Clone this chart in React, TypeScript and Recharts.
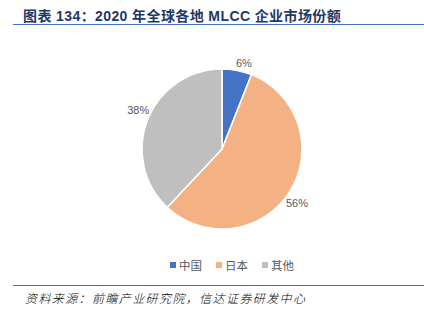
import React from 'react'
import { PieChart, Pie, Cell } from 'recharts'

document.body.style.margin = '0'

const regions = ['中国', '日本', '其他']
const shares = [6, 56, 38]
const colors = ['#4472C4', '#F4B183', '#BFBFBF']

const data = regions.map((name, i) => ({ name, value: shares[i] }))

const RAD = Math.PI / 180

// place the label box just outside the slice edge (like Excel "outside end")
const renderLabel = (props: any) => {
  const { cx, cy, midAngle, outerRadius, value } = props
  const text = value + '%'
  const hw = text.length * 3.1
  const hh = 6
  const a = (midAngle - 3.5) * RAD
  const c = Math.cos(-a)
  const s = Math.sin(-a)
  const r = outerRadius + 1.5 + hw * Math.abs(c) + hh * Math.abs(s)
  return (
    <text
      x={cx + r * c}
      y={cy + r * s}
      fill='#595959'
      fontSize={11}
      textAnchor='middle'
      dominantBaseline='central'
    >
      {text}
    </text>
  )
}

const App: React.FC = () => {
  return (
    <div
      style={{
        position: 'relative',
        width: 424,
        height: 331,
        background: '#fff',
        fontFamily: 'Arial, "Liberation Sans", "Noto Sans CJK SC", sans-serif'
      }}
    >
      <div
        style={{
          position: 'absolute',
          left: 23,
          top: 5,
          fontSize: 14,
          fontWeight: 'bold',
          letterSpacing: 0.4,
          color: '#1F3864',
          whiteSpace: 'nowrap'
        }}
      >
        图表 134：2020 年全球各地 MLCC 企业市场份额
      </div>
      <div
        style={{
          position: 'absolute',
          left: 13,
          top: 24,
          width: 411,
          height: 1,
          background: '#4472C4'
        }}
      />
      <div style={{ position: 'absolute', left: 0, top: 0 }}>
        <PieChart width={424} height={331} margin={{ top: 0, right: 0, bottom: 0, left: 0 }}>
          <Pie
            data={data}
            dataKey='value'
            nameKey='name'
            cx={222}
            cy={149}
            outerRadius={80}
            startAngle={90}
            endAngle={-270}
            stroke='#fff'
            strokeWidth={1.5}
            label={renderLabel}
            labelLine={false}
            isAnimationActive={false}
          >
            {data.map((d, i) => (
              <Cell key={d.name} fill={colors[i]} />
            ))}
          </Pie>
        </PieChart>
      </div>
      <div
        style={{
          position: 'absolute',
          left: 170,
          top: 257,
          display: 'flex',
          fontSize: 11.5,
          color: '#595959',
          whiteSpace: 'nowrap'
        }}
      >
        {regions.map((name, i) => (
          <div
            key={name}
            style={{ display: 'flex', alignItems: 'center', marginRight: 14 }}
          >
            <span
              style={{
                display: 'inline-block',
                width: 6,
                height: 6,
                background: colors[i],
                marginRight: 3
              }}
            />
            <span>{name}</span>
          </div>
        ))}
      </div>
      <div
        style={{
          position: 'absolute',
          left: 13,
          top: 285,
          width: 411,
          height: 1,
          background: '#4472C4'
        }}
      />
      <div
        style={{
          position: 'absolute',
          left: 25,
          top: 289,
          fontSize: 12,
          fontWeight: 300,
          letterSpacing: 1.4,
          fontStyle: 'italic',
          color: '#000',
          whiteSpace: 'nowrap'
        }}
      >
        资料来源：前瞻产业研究院，信达证券研发中心
      </div>
    </div>
  )
}

export default App
